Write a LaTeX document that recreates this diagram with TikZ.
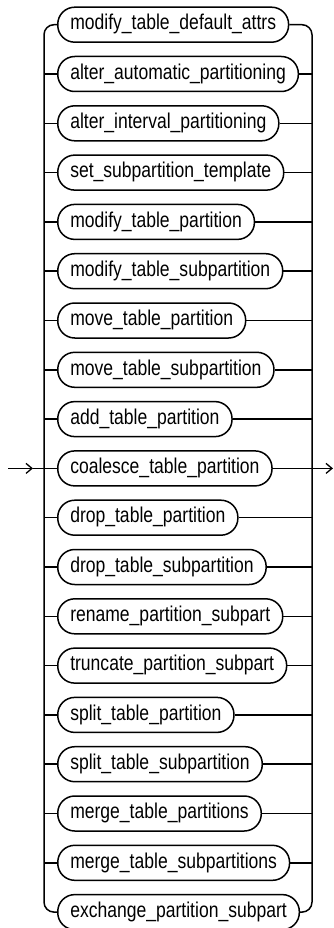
\documentclass[tikz,border=0pt]{standalone}
\usepackage{fontspec}
\setmainfont{Liberation Sans}
\newfontfamily\narrowfont[FakeStretch=0.82]{Liberation Sans}
\usetikzlibrary{arrows.meta}
\begin{document}
\begin{tikzpicture}[x=1pt,y=-1pt,
  line width=1.5pt,
  term/.style={draw, rounded corners=17pt, minimum height=35pt, inner xsep=12.5pt,
    text height=15pt, text depth=4.5pt, anchor=west,
    font=\narrowfont\fontsize{21.4}{24}\selectfont},
  barb/.style={-{Straight Barb[length=6pt,width=10pt,line width=1.3pt]}}]
\useasboundingbox (0,0) rectangle (334,928);
\def\ry#1{24.7+49.3*#1}
\foreach \i/\t in {0/modify\_table\_default\_attrs,
  1/alter\_automatic\_partitioning,
  2/alter\_interval\_partitioning,
  3/set\_subpartition\_template,
  4/modify\_table\_partition,
  5/modify\_table\_subpartition,
  6/move\_table\_partition,
  7/move\_table\_subpartition,
  8/add\_table\_partition,
  9/coalesce\_table\_partition,
  10/drop\_table\_partition,
  11/drop\_table\_subpartition,
  12/rename\_partition\_subpart,
  13/truncate\_partition\_subpart,
  14/split\_table\_partition,
  15/split\_table\_subpartition,
  16/merge\_table\_partitions,
  17/merge\_table\_subpartitions,
  18/exchange\_partition\_subpart}{
  \node[term] (b\i) at (57,{\ry{\i}}) {\t};
  \coordinate (L\i) at (44,{\ry{\i}});
  \coordinate (R\i) at (312,{\ry{\i}});
}
\draw[rounded corners=10pt] (b0.west) -- (L0) -- (L18) -- (b18.west);
\draw[rounded corners=10pt] (b0.east) -- (R0) -- (R18) -- (b18.east);
\foreach \i in {1,...,17}{
  \draw (L\i) -- (b\i.west);
  \draw (b\i.east) -- (R\i);
}
\coordinate (in) at (8,{\ry{9}});
\coordinate (inarr) at (33,{\ry{9}});
\coordinate (out) at (333,{\ry{9}});
\draw[barb] (in) -- (inarr);
\draw (inarr) -- (L9);
\draw[barb] (R9) -- (out);
\end{tikzpicture}
\end{document}
